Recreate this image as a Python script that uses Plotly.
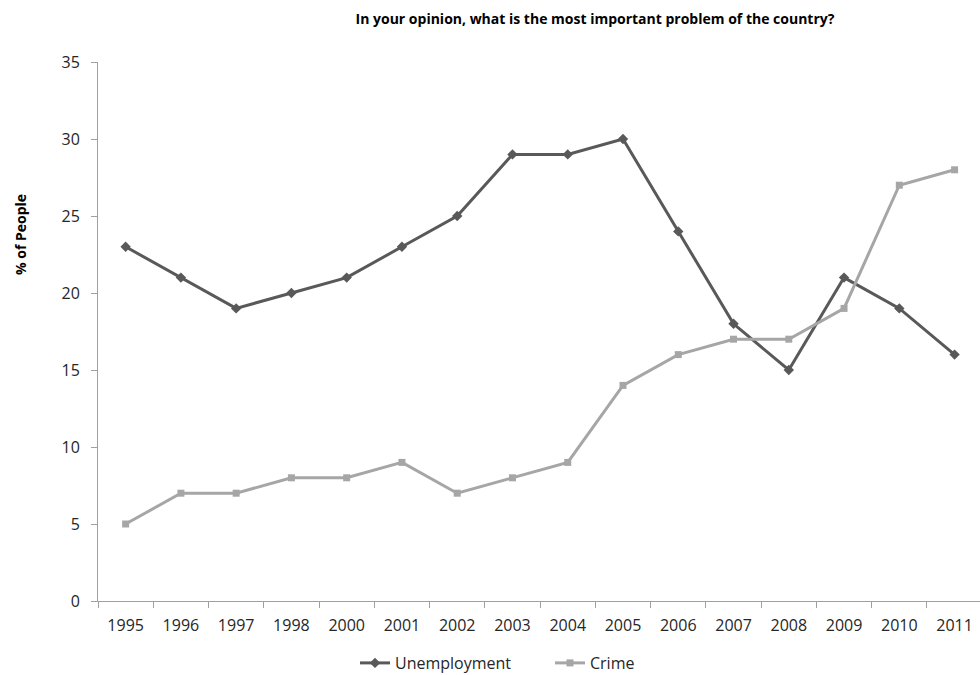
import plotly.graph_objects as go

years = ["1995", "1996", "1997", "1998", "2000", "2001", "2002", "2003",
         "2004", "2005", "2006", "2007", "2008", "2009", "2010", "2011"]
unemployment = [23, 21, 19, 20, 21, 23, 25, 29, 29, 30, 24, 18, 15, 21, 19, 16]
crime = [5, 7, 7, 8, 8, 9, 7, 8, 9, 14, 16, 17, 17, 19, 27, 28]
y_ticks = [0, 5, 10, 15, 20, 25, 30, 35]

FONT = "Open Sans"
W, H = 980, 675
L, R, T, B = 98, 0, 62, 74

fig = go.Figure()
fig.add_trace(go.Scatter(
    x=years, y=unemployment, name="Unemployment", mode="lines+markers",
    line=dict(color="#595959", width=3),
    marker=dict(symbol="diamond", size=8, color="#595959"),
))
fig.add_trace(go.Scatter(
    x=years, y=crime, name="Crime", mode="lines+markers",
    line=dict(color="#a6a6a6", width=3),
    marker=dict(symbol="square", size=7, color="#a6a6a6"),
))

pw, ph = W - L - R, H - T - B

fig.update_layout(
    width=W, height=H,
    paper_bgcolor="white", plot_bgcolor="white",
    margin=dict(l=L, r=R, t=T, b=B, autoexpand=False),
    font=dict(family=FONT, size=16, color="#262626"),
    title=dict(text="<b>In your opinion, what is the most important problem of the country?</b>",
               x=595 / W, xanchor="center", xref="container",
               y=1 - 19 / H, yanchor="middle", yref="container",
               font=dict(size=14, color="#000000", family=FONT)),
    showlegend=True,
    legend=dict(orientation="h", x=355 / W, xref="container", xanchor="left",
                y=1 - 663 / H, yref="container", yanchor="middle",
                font=dict(size=16, color="#262626"),
                entrywidth=150, entrywidthmode="pixels",
                traceorder="normal"),
    xaxis=dict(
        type="category", range=[-0.5, 15.46], automargin=False,
        showgrid=False, showline=True, linecolor="#a0a0a0", linewidth=1,
        ticks="outside", ticklen=6, tickcolor="#a0a0a0",
        tickson="boundaries", tickfont=dict(size=16, color="#262626"),
        ticklabelstandoff=10,
        zeroline=False,
    ),
    yaxis=dict(
        range=[0, 35], tickvals=y_ticks, automargin=False,
        showgrid=False, showline=True, linecolor="#a0a0a0", linewidth=1,
        ticks="outside", ticklen=6, tickcolor="#a0a0a0",
        tickfont=dict(size=16, color="#262626"),
        ticklabelstandoff=8,
        zeroline=False,
    ),
    annotations=[dict(
        text="<b>% of People</b>", textangle=-90,
        x=(20 - L) / pw, xref="paper", y=(H - B - 235) / ph, yref="paper",
        showarrow=False, font=dict(size=14, color="#000000", family=FONT),
        xanchor="center", yanchor="middle",
    )],
)

fig.write_html("out.html", config={"displayModeBar": False},
               post_script="document.body.style.margin='0';document.body.style.padding='0';")
